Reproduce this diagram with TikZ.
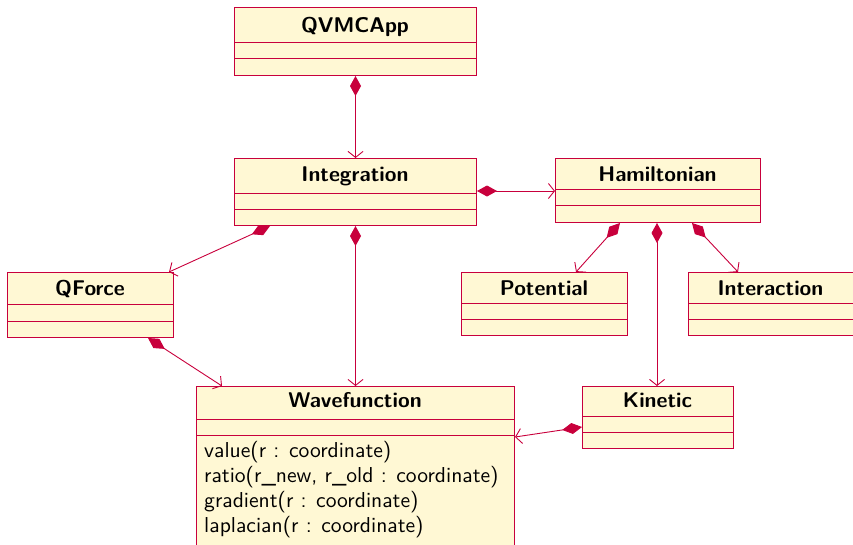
\documentclass[tikz,border=0pt]{standalone}
\usepackage{fontspec}
\newfontfamily\umlsf{lmsans10-regular.otf}[BoldFont=lmsans10-bold.otf]
\usetikzlibrary{arrows.meta,calc}
\definecolor{umlred}{RGB}{200,0,60}
\definecolor{umlfill}{RGB}{255,248,212}
\tikzset{
  cls/.style={draw=umlred, fill=umlfill, line width=1pt, inner sep=0pt, anchor=north west},
  sepline/.style={draw=umlred, line width=1pt},
  title/.style={font=\umlsf\bfseries\fontsize{21.3}{26}\selectfont, inner sep=0pt, anchor=base},
  meth/.style={font=\umlsf\fontsize{21.6}{26}\selectfont, inner sep=0pt, anchor=base west},
  comp/.style={draw=umlred, line width=0.9pt, {Diamond[length=20pt,width=11pt,fill=umlred]}-{Straight Barb[length=6pt,width=15pt]}}
}
\newcommand{\umlbox}[9]{%
  % name, x1, y1, x2, y2, sep1, sep2, baseline, title
  \node[cls, minimum width=#4pt-#2pt, minimum height=#5pt-#3pt] (#1) at (#2,#3) {};
  \draw[sepline] (#2,#6) -- (#4,#6);
  \draw[sepline] (#2,#7) -- (#4,#7);
  \node[title] (#1-t) at ({(#2+#4)/2},#8) {#9};
}
\begin{document}
\begin{tikzpicture}[x=1pt,y=-1pt]
\useasboundingbox (0,0) rectangle (853,544);
\umlbox{app}{234}{7}{476}{75}{42}{58}{32}{QVMCApp}
\umlbox{int}{234}{158}{476}{225}{193}{209}{181.5}{Integration}
\umlbox{ham}{555}{158}{760}{222}{189}{205}{181.5}{Hamiltonian}
\umlbox{qf}{7}{272}{173}{337}{304}{321}{295}{QForce}
\umlbox{pot}{461}{272}{627}{335}{303}{319}{295}{Potential}
\umlbox{inter}{688}{272}{853}{335}{303}{319}{295}{Interaction}
\umlbox{kin}{582}{386}{733}{448}{416}{432}{407}{Kinetic}
% Wavefunction extends past bottom
\node[cls, minimum width=318pt, minimum height=170pt] (wf) at (196,386) {};
\draw[sepline] (196,419) -- (514,419);
\draw[sepline] (196,435) -- (514,435);
\node[title] (wf-t) at (355,407) {Wavefunction};
\node[meth] (m1) at (204,457) {value(r : coordinate)};
\node[meth] (m2) at (204,482) {ratio(r\_new, r\_old : coordinate)};
\node[meth] (m3) at (204,507) {gradient(r : coordinate)};
\node[meth] (m4) at (204,532) {laplacian(r : coordinate)};
% connectors
\draw[comp] (app.south) -- (int.north);
\draw[comp] ($(int.north east)+(0,33)$) -- ($(ham.north west)+(0,33)$);
\draw[comp] ($(int.south west)+(36,0)$) -- ($(qf.north east)+(-5,0)$);
\draw[comp] (int.south) -- (wf.north);
\draw[comp] ($(qf.south west)+(141,0)$) -- ($(wf.north west)+(26,0)$);
\draw[comp] ($(ham.south west)+(65,0)$) -- ($(pot.north west)+(115,0)$);
\draw[comp] ($(ham.south west)+(102,0)$) -- ($(kin.north west)+(75,0)$);
\draw[comp] ($(ham.south west)+(137,0)$) -- ($(inter.north west)+(50,0)$);
\draw[comp] ($(kin.north west)+(0,41)$) -- ($(wf.north east)+(0,51)$);
\end{tikzpicture}
\end{document}
